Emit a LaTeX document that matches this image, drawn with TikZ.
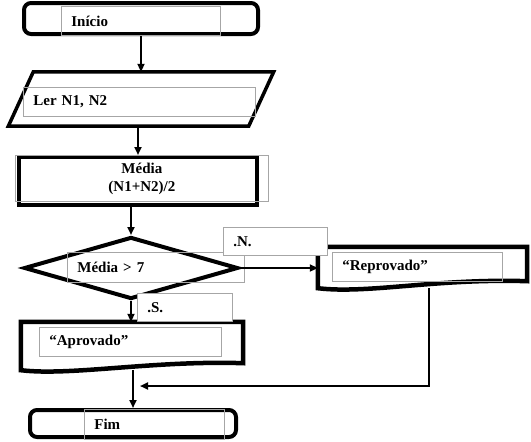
\documentclass[tikz,border=0pt]{standalone}
\usepackage{fontspec}
\setmainfont{Liberation Serif}
\usetikzlibrary{shapes.geometric,arrows.meta}
\newcommand{\docline}[1]{
  \draw[blk,line width=4.5pt] (#1.south west) -- (#1.north west) -- (#1.north east)
    -- ([yshift=7pt]#1.south east)
    .. controls ([xshift=-90pt,yshift=10pt]#1.south east) and ([xshift=50pt,yshift=-6pt]#1.south west) .. (#1.south west)
    -- cycle;
}

\begin{document}
\begin{tikzpicture}[x=1pt,y=-1pt,font=\fontsize{15}{18}\selectfont\bfseries,
    >={Triangle[length=8pt,width=7pt]},
    flow/.style={line width=2.5pt},
    blk/.style={draw,line width=4pt,inner sep=0pt},
    term/.style={blk,rounded corners=7pt},
    tbox/.style={draw=gray!70,line width=0.8pt,anchor=north west,inner xsep=10pt,inner ysep=0pt,align=left}]
    \useasboundingbox (0,0) rectangle (531,442);
    \node [term,minimum width=234pt,minimum height=31pt] (ini) at (141,18.5) {};
    \node [inner sep=0pt,minimum width=240pt,minimum height=54pt] (ler) at (141,99) {};
    \draw [blk,line width=3.5pt] ([xshift=-12.5pt]ler.south west) -- ([xshift=12.5pt]ler.north west)
      -- ([xshift=12.5pt]ler.north east) -- ([xshift=-12.5pt]ler.south east) -- cycle;
    \node [blk,minimum width=238pt,minimum height=48pt] (med) at (138,181) {};
    \node [blk,diamond,minimum width=214pt,minimum height=62pt] (dec) at (131,268) {};
    \node [inner sep=0pt,minimum width=209pt,minimum height=41pt] (rep) at (422.5,267.5) {};
    \node [inner sep=0pt,minimum width=222pt,minimum height=48pt] (apr) at (132,346) {};
    \node [term,minimum width=206pt,minimum height=27pt] (fim) at (133,423.5) {};
    \docline{rep}
    \docline{apr}
    \node [tbox,text width=139pt,minimum height=29pt] (tini) at (61,6) {Início};
    \node [tbox,text width=212pt,minimum height=29pt] (tler) at (23,87) {Ler N1, N2};
    \node [tbox,text width=233pt,minimum height=46pt,align=center] (tmed) at (15,155) {Média\\(N1+N2)/2};
    \node [tbox,text width=157pt,minimum height=30pt] (tdec) at (67,252) {Média > 7};
    \node [tbox,fill=white,text width=84pt,minimum height=28pt] (tnao) at (223,227) {.N.};
    \node [tbox,fill=white,text width=75pt,minimum height=28pt] (tsim) at (137,293) {.S.};
    \node [tbox,text width=150pt,minimum height=29pt] (trep) at (332,252) {“Reprovado”};
    \node [tbox,text width=162pt,minimum height=29pt] (tapr) at (39,327) {“Aprovado”};
    \node [tbox,text width=120pt,minimum height=30pt] (tfim) at (84,409) {Fim};
    \coordinate (jn) at (140,386);
    \draw [flow,->] (ini) -- (ler);
    \draw [flow,->] (ler.south -| med.north) -- (med.north);
    \draw [flow,->] (med.south -| dec.north) -- (dec.north);
    \draw [flow,->] (dec.east) -- (dec.east -| rep.west);
    \draw [flow,->] (dec.south) -- (apr.north -| dec.south);
    \draw [flow,->] (apr.south -| fim.north) -- (fim.north);
    \draw [flow,->] ([xshift=6.5pt]rep.south) |- (jn);
\end{tikzpicture}
\end{document}
